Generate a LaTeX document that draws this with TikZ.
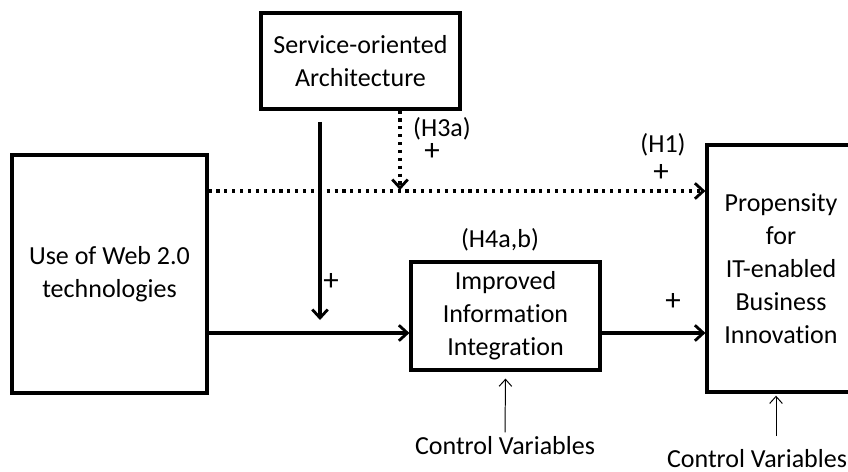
\documentclass[tikz,border=0pt]{standalone}
\usepackage{fontspec}
\setmainfont{Carlito}[Ligatures=NoCommon]
\usetikzlibrary{arrows.meta}
\tikzset{
  box/.style={draw, line width=2.2pt, align=center, inner sep=0pt},
  lbl/.style={inner sep=0pt, align=center},
  plus/.style={inner sep=0pt, font=\fontsize{22}{22}\selectfont},
  thick arrow/.style={line width=2.2pt, -{Straight Barb[length=6pt,width=11pt,line width=2pt]}},
  dot arrow/.style={line width=2.2pt, dash pattern=on 2.2pt off 3.4pt, -{Straight Barb[length=6pt,width=11pt,line width=2pt]}},
  thin arrow/.style={line width=0.7pt, -{Straight Barb[length=5pt,width=9pt,line width=0.7pt]}}
}
\begin{document}
\begin{tikzpicture}[x=0.025cm, y=-0.025cm, font=\fontsize{18.5}{23.4}\selectfont]
  \useasboundingbox (0,0) rectangle (848,472);

  % boxes
  \node[box, minimum width=4.975cm, minimum height=2.4cm] (soa) at (360.5,61) {Service-oriented\\Architecture};
  \node[box, minimum width=4.875cm, minimum height=5.95cm] (web) at (109.5,274) {Use of Web 2.0\\technologies};
  \node[box, minimum width=4.725cm, minimum height=2.7cm] (imp) at (505.5,316) {Improved\\Information\\Integration};
  \node[box, minimum width=3.7cm, minimum height=6.175cm] (prop) at (781,268.5) {Propensity\\for\\IT-enabled\\Business\\Innovation};

  \node[lbl] (cv1) at (505,446) {Control Variables};
  \node[lbl] (cv2) at (757,459) {Control Variables};

  % hypothesis labels
  \node[lbl] (h3a) at (442,129) {(H3a)};
  \node[plus] (p3a) at (432,152) {+};
  \node[lbl] (h1) at (663,145) {(H1)};
  \node[plus] (p1) at (661,173) {+};
  \node[lbl] (h4) at (500,240) {(H4a,b)};
  \node[plus] (p4) at (331,282) {+};
  \node[plus] (p2) at (673,302) {+};

  % connector points
  \coordinate (low) at (207,333);
  \coordinate (high) at (207,191);
  \coordinate (soatail) at (320,122);
  \coordinate (modhead) at (320,320);
  \coordinate (dotfoot) at (400,190);
  \coordinate (cv2tail) at (776,436);

  \draw[thick arrow] (web.east |- low) -- (imp.west |- low);
  \draw[thick arrow] (imp.east |- low) -- (prop.west |- low);
  \draw[thick arrow] (soatail) -- (modhead);
  \draw[dot arrow] (web.east |- high) -- (prop.west |- high);
  \draw[dot arrow] (soa.south -| dotfoot) -- (dotfoot);
  \draw[thin arrow] ([yshift=3pt]cv1.north) -- ([yshift=-5pt]imp.south);
  \draw[thin arrow] (cv2tail) -- ([yshift=-1.5pt]prop.south -| cv2tail);
\end{tikzpicture}
\end{document}
